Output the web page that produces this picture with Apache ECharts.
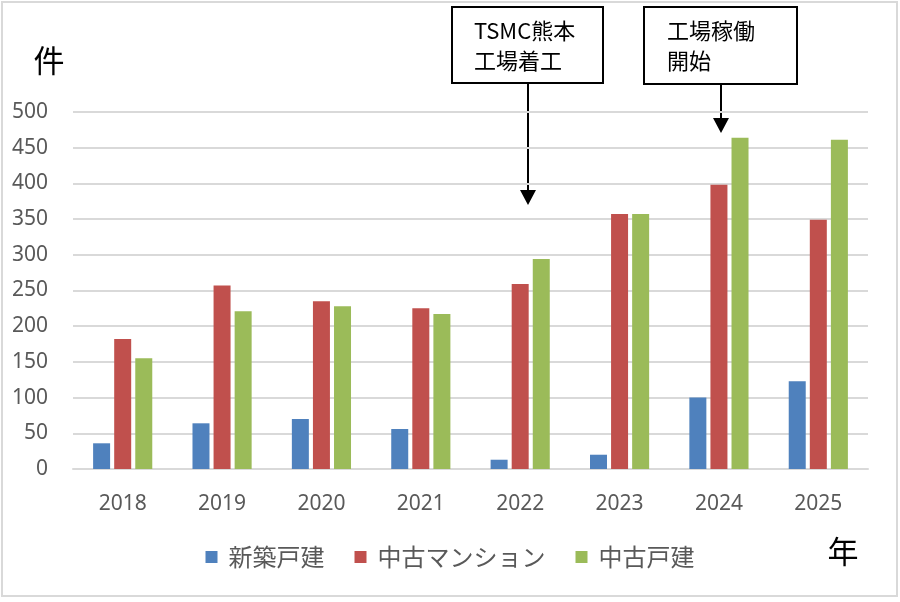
<!DOCTYPE html>
<html><head><meta charset="utf-8">
<script src="https://cdn.jsdelivr.net/npm/echarts@6/dist/echarts.min.js"></script>
<style>html,body{margin:0;padding:0;background:#fff}#c{width:900px;height:602px}</style>
</head><body><div id="c"></div>
<script>
const years = ['2018','2019','2020','2021','2022','2023','2024','2025'];
const shinchikuKodate = [36, 64, 70, 56, 13, 20, 100, 123];
const chukoMansion = [182, 257, 235, 225, 259, 357, 398, 349];
const chukoKodate = [155, 221, 228, 217, 294, 357, 464, 461];
const seriesNames = ['新築戸建', '中古マンション', '中古戸建'];
const colors = ['#4f81bd', '#c0504d', '#9bbb59'];
const yTicks = {min: 0, max: 500, interval: 50};

const numFont = '"Noto Sans"';
const jpFont = '"Noto Sans CJK JP"';
const chart = echarts.init(document.getElementById('c'));

function arrow(x, y1, y2) {
  return [
    {type:'line', shape:{x1:x, y1:y1, x2:x, y2:y2-12}, style:{stroke:'#000', lineWidth:2}},
    {type:'polygon', shape:{points:[[x-8,y2-15],[x+8,y2-15],[x,y2]]}, style:{fill:'#000'}}
  ];
}

chart.setOption({
  animation: false,
  color: colors,
  grid: {left: 73, right: 32, top: 112, bottom: 133},
  legend: {
    data: seriesNames, bottom: 28, left: 'center', icon: 'rect',
    itemWidth: 12, itemHeight: 12, itemGap: 30,
    textStyle: {fontFamily: jpFont, fontSize: 24, color: '#595959', padding: [0,0,0,6]}
  },
  xAxis: {
    type: 'category', data: years,
    axisLine: {lineStyle: {color: '#d9d9d9', width: 2}},
    axisTick: {show: false},
    axisLabel: {fontFamily: numFont, fontSize: 21, color: '#595959', margin: 25}
  },
  yAxis: {
    type: 'value', min: yTicks.min, max: yTicks.max, interval: yTicks.interval,
    axisLine: {show: false}, axisTick: {show: false},
    splitLine: {lineStyle: {color: '#d9d9d9', width: 2}},
    axisLabel: {fontFamily: numFont, fontSize: 21, color: '#595959', margin: 25}
  },
  series: [
    {name: seriesNames[0], type: 'bar', data: shinchikuKodate, barWidth: 17, barGap: '24%'},
    {name: seriesNames[1], type: 'bar', data: chukoMansion, barWidth: 17, barGap: '24%'},
    {name: seriesNames[2], type: 'bar', data: chukoKodate, barWidth: 17, barGap: '24%'}
  ],
  graphic: [
    {type:'rect', shape:{x:2, y:2, width:895, height:594}, style:{fill:'none', stroke:'#d9d9d9', lineWidth:2}, silent:true},
    {type:'text', x:49, y:60, style:{text:'件', font:'31px ' + jpFont, fill:'#000', textAlign:'center', textVerticalAlign:'middle'}},
    {type:'text', x:843, y:551, style:{text:'年', font:'31px ' + jpFont, fill:'#000', textAlign:'center', textVerticalAlign:'middle'}},
    {type:'rect', shape:{x:452, y:7, width:151, height:76}, style:{fill:'#fff', stroke:'#000', lineWidth:2}},
    {type:'text', x:474, y:31, style:{text:'TSMC熊本', font:'22px ' + jpFont, fill:'#000', textVerticalAlign:'middle'}},
    {type:'text', x:474, y:61, style:{text:'工場着工', font:'22px ' + jpFont, fill:'#000', textVerticalAlign:'middle'}},
    {type:'rect', shape:{x:644, y:7, width:153, height:77}, style:{fill:'#fff', stroke:'#000', lineWidth:2}},
    {type:'text', x:667, y:31, style:{text:'工場稼働', font:'22px ' + jpFont, fill:'#000', textVerticalAlign:'middle'}},
    {type:'text', x:667, y:61, style:{text:'開始', font:'22px ' + jpFont, fill:'#000', textVerticalAlign:'middle'}},
    ...arrow(528, 84, 205),
    ...arrow(721, 85, 133)
  ]
});
</script></body></html>
